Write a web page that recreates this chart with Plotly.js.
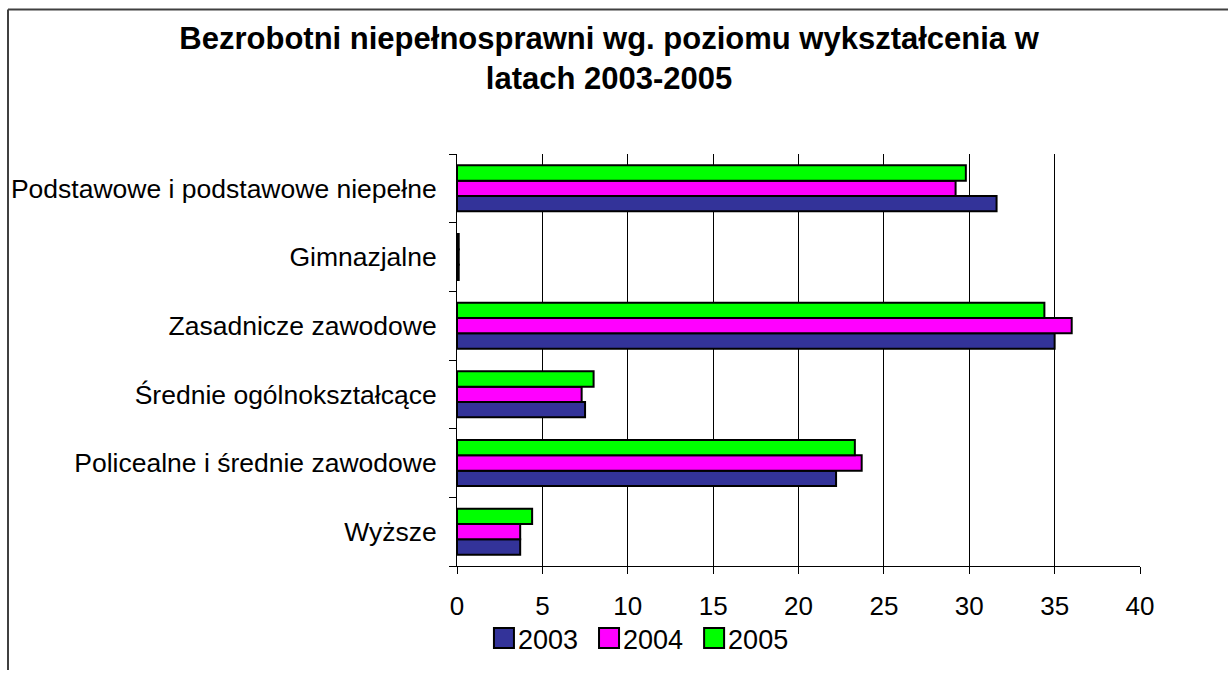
<!DOCTYPE html>
<html>
<head>
<meta charset="utf-8">
<script src="https://cdn.plot.ly/plotly-3.0.1.min.js"></script>
<style>html,body{margin:0;padding:0;background:#fff;}#chart{width:1228px;height:675px;}</style>
</head>
<body>
<div id="chart"></div>
<script>
// Categories, top to bottom as shown in the chart
const categories = [
  "Podstawowe i podstawowe niepełne",
  "Gimnazjalne",
  "Zasadnicze zawodowe",
  "Średnie ogólnokształcące",
  "Policealne i średnie zawodowe",
  "Wyższe"
];
const seriesNames = ["2003", "2004", "2005"];
const values2003 = [31.6, 0.1, 35.0, 7.5, 22.2, 3.7];
const values2004 = [29.2, 0.1, 36.0, 7.3, 23.7, 3.7];
const values2005 = [29.8, 0.1, 34.4, 8.0, 23.3, 4.4];
const xTicks = [0, 5, 10, 15, 20, 25, 30, 35, 40];
const titleText = "Bezrobotni niepełnosprawni wg. poziomu wykształcenia w<br>latach 2003-2005";

const colors = ["#333399", "#FF00FF", "#00FF00"];
const allValues = [values2003, values2004, values2005];

const traces = allValues.map((vals, i) => ({
  type: "bar",
  orientation: "h",
  name: seriesNames[i],
  x: vals,
  y: categories,
  marker: { color: colors[i], line: { color: "#000", width: 2 } },
  hoverinfo: "x+y+name"
}));

const font = "Liberation Sans, Arial, sans-serif";
const L = 457, R = 88, T = 154, B = 105;
const PW = 1228 - L - R, PH = 675 - T - B;
const layout = {
  width: 1228, height: 675,
  paper_bgcolor: "#fff", plot_bgcolor: "#fff",
  margin: { l: L, r: R, t: T, b: B, pad: 0 },
  barmode: "group",
  bargap: 0.33,
  bargroupgap: 0,
  font: { family: font, color: "#000", size: 26 },
  title: {
    text: titleText,
    font: { family: font, size: 31, color: "#000", weight: "bold" },
    x: 0.496, xref: "container", xanchor: "center",
    y: 0.928, yref: "container", yanchor: "top"
  },
  xaxis: {
    range: [0, 40],
    tickvals: xTicks,
    ticktext: xTicks.map(String),
    showgrid: true, gridcolor: "#000", gridwidth: 1,
    showline: true, linecolor: "#000", linewidth: 1,
    ticks: "outside", ticklen: 7, tickcolor: "#000",
    tickfont: { size: 26, family: font, color: "#000" },
    ticklabelstandoff: 10,
    zeroline: false, fixedrange: true
  },
  yaxis: {
    type: "category",
    categoryorder: "array",
    categoryarray: categories.slice().reverse(),
    tickson: "boundaries",
    showgrid: false,
    showline: true, linecolor: "#000", linewidth: 1,
    ticks: "outside", ticklen: 7, tickcolor: "#000",
    tickfont: { size: 26.5, family: font, color: "#000" },
    ticklabelstandoff: 14,
    zeroline: false, fixedrange: true
  },
  showlegend: true,
  legend: {
    orientation: "h",
    x: 0.262, xanchor: "center",
    y: -0.176, yanchor: "middle",
    bgcolor: "rgba(0,0,0,0)",
    font: { size: 27, family: font, color: "#000" },
    traceorder: "normal",
    itemwidth: 30
  },
  shapes: [
    { type: "line", xref: "paper", yref: "paper", x0: (8 - L) / PW, x1: (8 - L) / PW, y0: -B / PH, y1: 1 + (T - 8) / PH,
      line: { color: "#404040", width: 2 } },
    { type: "line", xref: "paper", yref: "paper", x0: (8 - L) / PW, x1: 1 + R / PW, y0: 1 + (T - 8) / PH, y1: 1 + (T - 8) / PH,
      line: { color: "#404040", width: 2 } }
  ]
};

function enlargeSwatches() {
  document.querySelectorAll(".legend .legendpoints path").forEach(p => {
    p.setAttribute("d", "M16,10H-4V-10H16Z");
  });
}

Plotly.newPlot("chart", traces, layout, { displayModeBar: false, staticPlot: true }).then(enlargeSwatches);
</script>
</body>
</html>
